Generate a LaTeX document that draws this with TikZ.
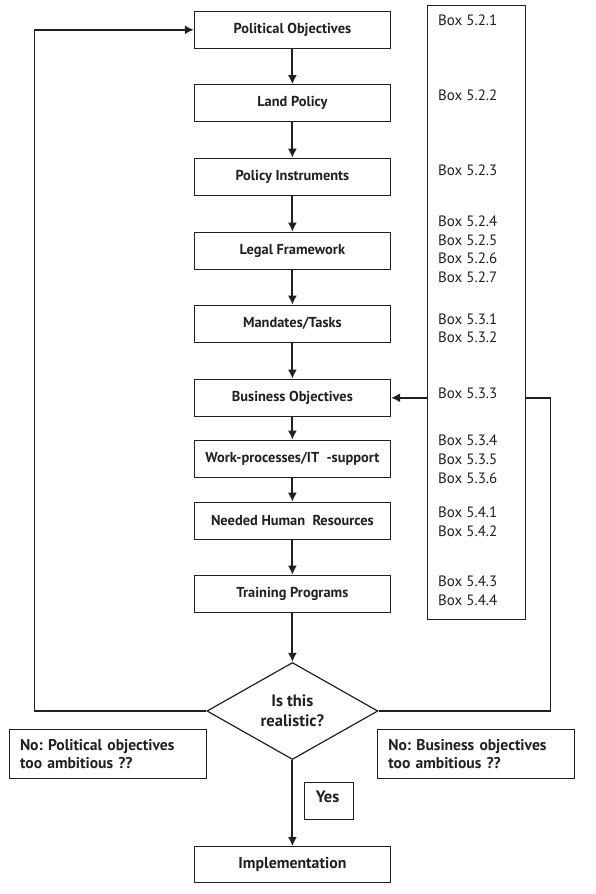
\documentclass[tikz,border=0pt]{standalone}
\usepackage{fontspec}
\setmainfont{PT Sans}
\usetikzlibrary{shapes.geometric,arrows.meta}
\definecolor{ink}{HTML}{231F20}
\frenchspacing
\begin{document}
\begin{tikzpicture}[x=1pt,y=-1pt,color=ink,
  mainbox/.style={draw,line width=1.2pt,minimum width=196pt,minimum height=37pt,inner sep=0pt,font=\bfseries\fontsize{14.4}{16}\selectfont},
  boxref/.style={anchor=west,inner sep=0pt,font=\fontsize{15}{17}\selectfont},
  nobox/.style={draw,line width=1.2pt,minimum width=197pt,minimum height=49pt,inner sep=0pt,text width=176pt,align=left,font=\bfseries\fontsize{15.6}{18.4}\selectfont},
  flow/.style={line width=2pt,-{Latex[length=9pt,width=9pt]}},
  loopline/.style={line width=1.2pt}]
\fill[white] (0,0) rectangle (596,894);
\useasboundingbox (0,0) rectangle (596,894);

% reference box
\node[draw,line width=1.2pt,minimum width=98.5pt,minimum height=614pt,inner sep=0pt] (refbox) at (476.6,312.3) {};

% main chain
\node[mainbox] (po) at (292.4,29.8) {Political Objectives};
\node[mainbox] (lp) at (292.4,103.3) {Land Policy};
\node[mainbox] (pi) at (292.4,176.8) {Policy Instruments};
\node[mainbox] (lf) at (292.4,250.8) {Legal Framework};
\node[mainbox] (mt) at (292.4,323.8) {Mandates/Tasks};
\node[mainbox] (bo) at (292.4,397.8) {Business Objectives};
\node[mainbox] (wp) at (292.4,458.8) {Work-processes/IT\ \ -support};
\node[mainbox] (hr) at (292.4,520.8) {Needed Human\ \ Resources};
\node[mainbox] (tp) at (292.4,593.8) {Training Programs};
\node[draw,line width=1.2pt,shape=diamond,minimum width=171pt,minimum height=97pt,inner sep=0pt,align=center,font=\bfseries\fontsize{16.5}{19.6}\selectfont] (dia) at (292.4,711) {Is this\\realistic?};
\node[nobox] (nl) at (108,753.8) {No: Political objectives\\too ambitious ??};
\node[nobox] (nr) at (476.3,753.8) {No: Business objectives\\too ambitious ??};
\node[draw,line width=1.2pt,minimum width=49pt,minimum height=37pt,inner sep=0pt] (yesbox) at (329.1,800.8) {};
\node[font=\bfseries\fontsize{16.5}{18}\selectfont,inner sep=0pt] (yes) at (327.6,796.5) {Yes};
\node[mainbox,minimum height=35.6pt,font=\bfseries\fontsize{15.8}{18}\selectfont] (im) at (292.4,864.5) {Implementation};

% box references
\node[boxref] (r521) at (438,20.7) {Box 5.2.1};
\node[boxref] (r522) at (438,95.7) {Box 5.2.2};
\node[boxref] (r523) at (438,170.7) {Box 5.2.3};
\node[boxref] (r524) at (438,221.7) {Box 5.2.4};
\node[boxref] (r525) at (438,240.2) {Box 5.2.5};
\node[boxref] (r526) at (438,258.7) {Box 5.2.6};
\node[boxref] (r527) at (438,277.7) {Box 5.2.7};
\node[boxref] (r531) at (438,319) {Box 5.3.1};
\node[boxref] (r532) at (438,337.7) {Box 5.3.2};
\node[boxref] (r533) at (438,393.7) {Box 5.3.3};
\node[boxref] (r534) at (438,440.7) {Box 5.3.4};
\node[boxref] (r535) at (438,459.7) {Box 5.3.5};
\node[boxref] (r536) at (438,478.7) {Box 5.3.6};
\node[boxref] (r541) at (438,512.3) {Box 5.4.1};
\node[boxref] (r542) at (438,531.3) {Box 5.4.2};
\node[boxref] (r543) at (438,581.3) {Box 5.4.3};
\node[boxref] (r544) at (438,600.3) {Box 5.4.4};

% flow arrows
\draw[flow] (po) -- (lp);
\draw[flow] (lp) -- (pi);
\draw[flow] (pi) -- (lf);
\draw[flow] (lf) -- (mt);
\draw[flow] (mt) -- (bo);
\draw[flow] (bo) -- (wp);
\draw[flow] (wp) -- (hr);
\draw[flow] (hr) -- (tp);
\draw[flow] (tp) -- (dia);
\draw[flow] (dia) -- (im);

% loops
\coordinate (lc) at (34.2,711);
\coordinate (rc) at (550.6,711);
\draw[loopline] (dia.west) -- (lc) -- (lc |- po.west);
\draw[flow] (lc |- po.west) -- (po.west);
\draw[loopline] (dia.east) -- (rc) -- (rc |- bo.east);
\draw[line width=2pt] (rc |- bo.east) -- (refbox.east |- bo.east);
\draw[flow] (refbox.west |- bo.east) -- (bo.east);
\end{tikzpicture}
\end{document}
